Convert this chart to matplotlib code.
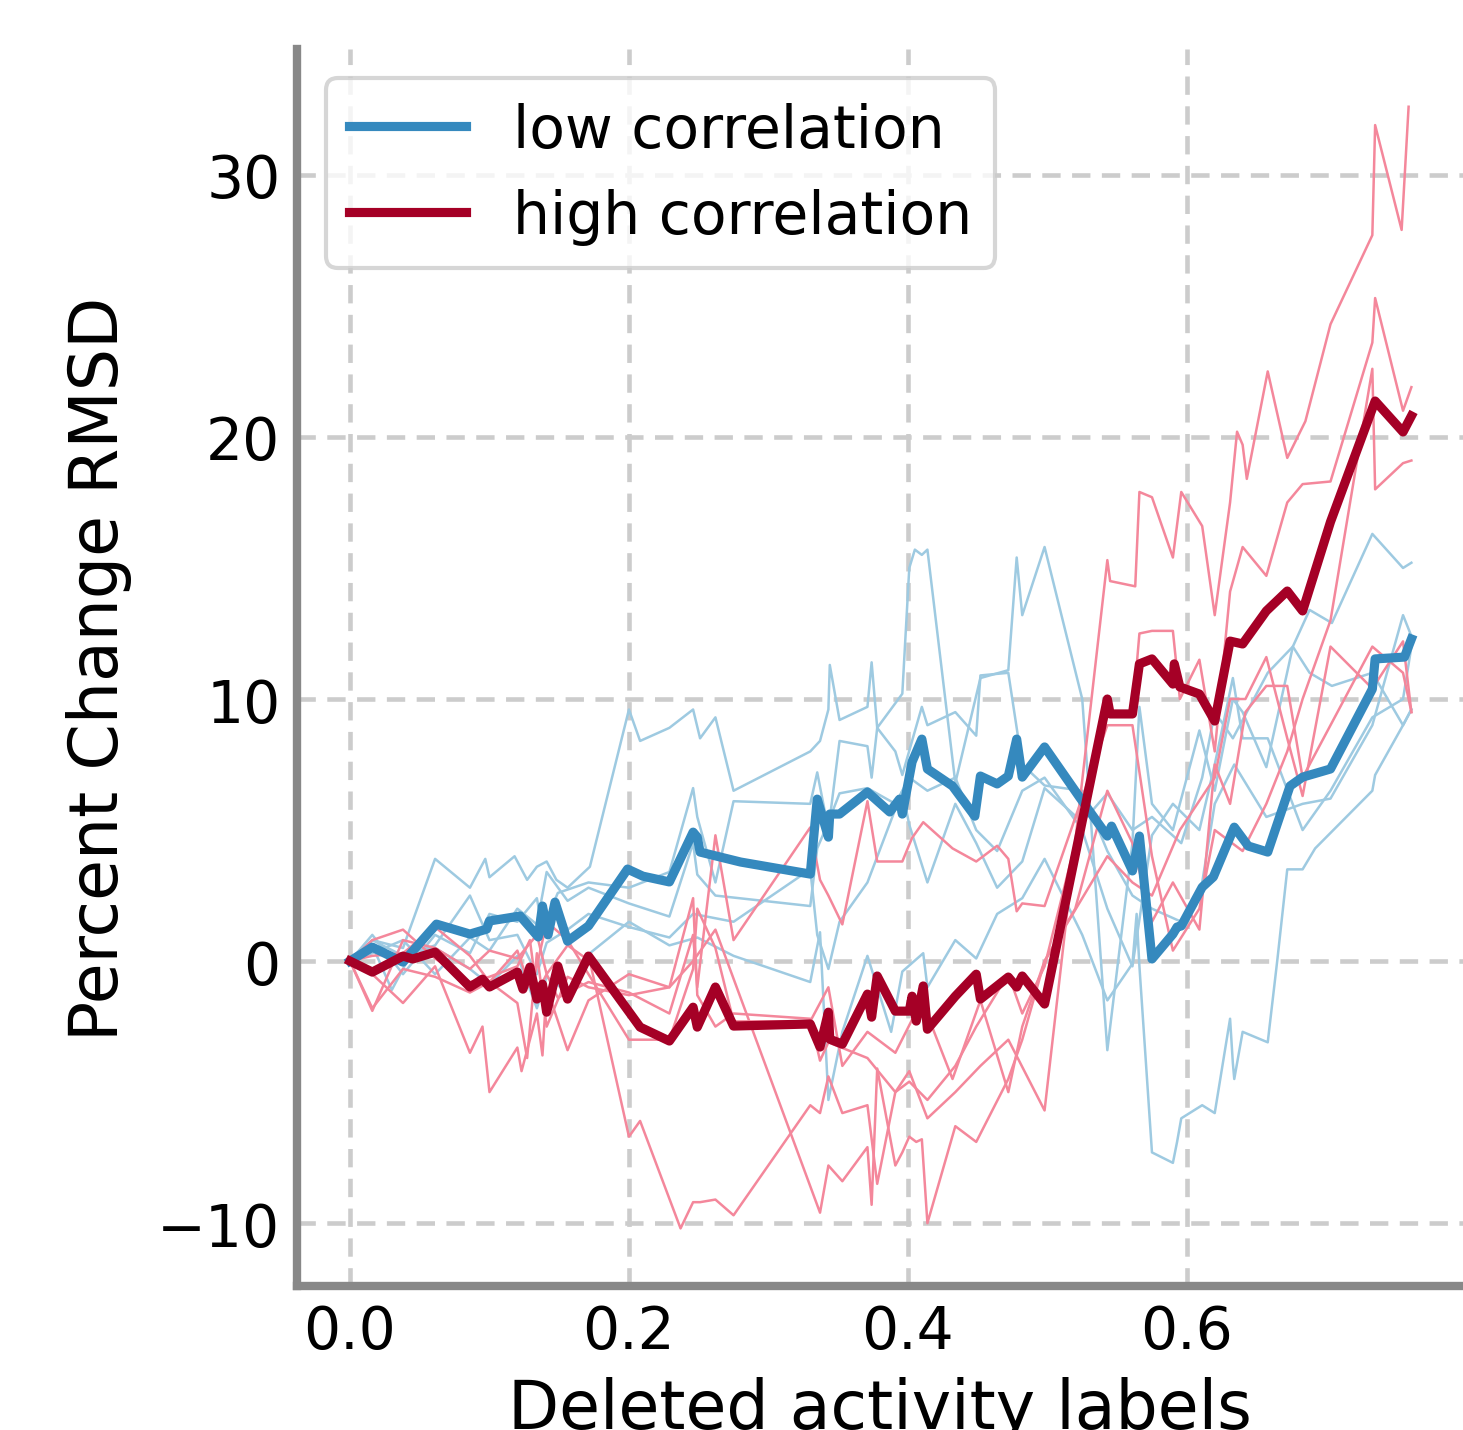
import matplotlib
matplotlib.use("Agg")
import matplotlib.pyplot as plt

# mean curves
low_x = [0.0, 0.016, 0.038, 0.062, 0.086, 0.098, 0.100, 0.122, 0.135, 0.138, 0.142, 0.147,
         0.156, 0.171, 0.199, 0.210, 0.229, 0.246, 0.249, 0.251, 0.280, 0.330, 0.335, 0.343,
         0.344, 0.351, 0.371, 0.387, 0.394, 0.396, 0.403, 0.410, 0.414, 0.432, 0.448, 0.452,
         0.464, 0.472, 0.478, 0.482, 0.498, 0.523, 0.543, 0.546, 0.561, 0.566, 0.575, 0.590,
         0.593, 0.596, 0.611, 0.619, 0.634, 0.644, 0.658, 0.674, 0.683, 0.703, 0.733, 0.735,
         0.756, 0.761]
low_y = [0.0, 0.53, -0.04, 1.41, 1.03, 1.22, 1.53, 1.72, 0.92, 2.10, 1.0, 2.25,
         0.76, 1.34, 3.51, 3.24, 3.02, 4.92, 4.73, 4.16, 3.78, 3.32, 6.18, 4.73,
         5.61, 5.61, 6.45, 5.69, 6.18, 5.61, 7.60, 8.47, 7.33, 6.68, 5.53, 7.06,
         6.76, 7.06, 8.47, 7.02, 8.17, 6.26, 4.77, 5.15, 3.44, 4.77, 0.08, 1.03,
         1.30, 1.34, 2.82, 3.21, 5.11, 4.39, 4.16, 6.68, 7.02, 7.33, 10.38, 11.53,
         11.60, 12.29]

high_x = [0.0, 0.016, 0.038, 0.045, 0.061, 0.086, 0.095, 0.100, 0.120, 0.124, 0.129, 0.134,
          0.138, 0.141, 0.149, 0.156, 0.171, 0.208, 0.229, 0.246, 0.249, 0.262, 0.275, 0.330,
          0.337, 0.343, 0.344, 0.353, 0.371, 0.374, 0.378, 0.391, 0.401, 0.403, 0.406, 0.411,
          0.414, 0.434, 0.449, 0.452, 0.472, 0.478, 0.482, 0.498, 0.543, 0.545, 0.561, 0.566,
          0.575, 0.590, 0.591, 0.595, 0.609, 0.620, 0.631, 0.640, 0.657, 0.672, 0.683, 0.703,
          0.735, 0.755, 0.761]
high_y = [0.0, -0.42, 0.19, 0.08, 0.34, -0.99, -0.69, -0.99, -0.42, -1.07, -0.23, -1.45,
          -0.88, -1.95, -0.19, -1.45, 0.19, -2.52, -3.05, -1.76, -2.52, -0.99, -2.48, -2.40,
          -3.28, -1.95, -2.98, -3.17, -1.26, -2.14, -0.57, -1.91, -1.91, -1.34, -2.29, -0.95,
          -2.60, -1.34, -0.50, -1.45, -0.61, -0.99, -0.57, -1.64, 10.0, 9.43, 9.43, 11.34,
          11.53, 10.57, 11.34, 10.46, 10.19, 9.16, 12.21, 12.10, 13.36, 14.12, 13.36, 16.76,
          21.37, 20.19, 20.80]

# individual runs, low correlation
low_runs = [
    ([0, 0.016, 0.038, 0.061, 0.086, 0.097, 0.100, 0.118, 0.127, 0.134, 0.141, 0.148, 0.156,
      0.172, 0.200, 0.208, 0.229, 0.246, 0.251, 0.262, 0.275, 0.330, 0.337, 0.343, 0.344,
      0.351, 0.371, 0.374, 0.378, 0.396, 0.401, 0.405, 0.410, 0.414, 0.425, 0.434, 0.452,
      0.472, 0.478, 0.482, 0.498, 0.525, 0.543, 0.561, 0.566, 0.575, 0.590, 0.609, 0.620,
      0.633, 0.640, 0.657, 0.676, 0.688, 0.704, 0.733, 0.755, 0.761],
     [0, 0.8, 0.5, 3.9, 2.8, 3.9, 3.2, 4.0, 3.1, 3.6, 3.8, 3.1, 2.8,
      3.6, 9.6, 8.4, 8.9, 9.6, 8.5, 9.3, 6.5, 8.0, 8.4, 9.6, 11.3,
      9.2, 9.7, 11.4, 8.9, 10.2, 15.0, 15.7, 15.5, 15.7, 10.8, 6.8, 10.8,
      11.1, 15.4, 13.2, 15.8, 10.0, -3.4, 4.5, 9.7, 6.0, 5.0, 8.8, 6.5,
      10.0, 9.5, 7.4, 12.0, 13.4, 12.9, 16.3, 15.0, 15.2]),
    ([0, 0.016, 0.030, 0.045, 0.061, 0.086, 0.100, 0.120, 0.134, 0.141, 0.156, 0.172, 0.200,
      0.229, 0.249, 0.275, 0.330, 0.337, 0.343, 0.353, 0.371, 0.388, 0.396, 0.411, 0.414,
      0.434, 0.449, 0.464, 0.482, 0.498, 0.525, 0.543, 0.561, 0.564, 0.566, 0.575, 0.590,
      0.593, 0.596, 0.611, 0.620, 0.631, 0.633, 0.634, 0.640, 0.658, 0.665, 0.672, 0.683,
      0.692, 0.733, 0.735, 0.755, 0.761],
     [0, 0.6, -1.1, 0.4, 0.5, -0.3, -0.9, 0.2, -1.8, -0.6, -1.2, 0.3, 1.5,
      0.6, 0.9, 0.2, -0.8, 1.1, -5.3, -2.7, 0.2, -2.7, -0.4, 0.3, -1.0,
      0.8, 0.1, 1.8, 2.4, 3.9, 1.0, -1.5, -0.1, 1.8, -0.2, -7.3, -7.7,
      -6.9, -6.0, -5.5, -5.8, -2.2, -3.9, -4.5, -2.7, -3.1, 0.1, 3.5, 3.5,
      4.3, 6.5, 7.1, 9.0, 9.6]),
    ([0, 0.016, 0.038, 0.061, 0.086, 0.100, 0.120, 0.134, 0.138, 0.149, 0.171, 0.200, 0.229,
      0.246, 0.249, 0.262, 0.275, 0.330, 0.335, 0.343, 0.351, 0.371, 0.374, 0.378, 0.391,
      0.396, 0.410, 0.414, 0.434, 0.449, 0.452, 0.472, 0.482, 0.498, 0.525, 0.543, 0.561,
      0.575, 0.596, 0.611, 0.620, 0.634, 0.657, 0.683, 0.703, 0.733, 0.755, 0.761],
     [0, 1.0, -0.5, 1.0, 0.3, 1.8, 1.5, 2.4, 1.2, 2.6, 3.0, 2.8, 3.4,
      6.6, 5.5, 3.0, 6.1, 6.0, 7.2, 5.0, 8.4, 8.2, 7.0, 8.9, 8.0,
      7.1, 9.7, 9.0, 9.5, 8.6, 10.9, 11.0, 7.5, 6.7, 6.5, 4.2, 2.5,
      2.0, 1.5, 3.0, 6.0, 7.5, 5.5, 6.0, 6.2, 9.0, 13.2, 12.4]),
    ([0, 0.016, 0.038, 0.061, 0.086, 0.100, 0.120, 0.134, 0.141, 0.156, 0.171, 0.200, 0.229,
      0.246, 0.249, 0.262, 0.330, 0.335, 0.343, 0.351, 0.371, 0.391, 0.401, 0.414, 0.434,
      0.449, 0.464, 0.482, 0.498, 0.525, 0.543, 0.561, 0.575, 0.590, 0.609, 0.620, 0.633,
      0.640, 0.658, 0.683, 0.703, 0.733, 0.755, 0.761],
     [0, 0.3, 0.8, -0.5, 0.9, 0.4, 2.0, 1.4, 3.4, 2.3, 2.8, 2.2, 1.7,
      4.5, 3.3, 2.5, 2.1, 4.3, 5.3, 6.4, 6.6, 6.0, 7.0, 6.5, 7.0,
      5.0, 4.2, 6.5, 7.0, 5.0, 2.0, -0.2, 4.8, 6.0, 5.0, 7.5, 10.8,
      8.5, 8.5, 5.0, 6.5, 9.3, 10.0, 12.0]),
    ([0, 0.016, 0.038, 0.061, 0.086, 0.100, 0.120, 0.134, 0.141, 0.156, 0.171, 0.200, 0.229,
      0.246, 0.275, 0.330, 0.335, 0.343, 0.351, 0.371, 0.396, 0.401, 0.414, 0.434, 0.449,
      0.464, 0.482, 0.498, 0.525, 0.543, 0.561, 0.575, 0.596, 0.611, 0.620, 0.633, 0.658,
      0.676, 0.688, 0.704, 0.733, 0.755, 0.761],
     [0, 0.8, 0.2, 0.6, 2.5, 0.8, 1.0, -0.5, 0.7, 1.2, 1.8, 1.3, 0.9,
      1.8, 1.5, 3.5, 1.0, -0.3, 1.5, 3.0, 6.5, 5.2, 3.0, 6.0, 4.5,
      2.8, 3.8, 6.6, 5.3, 6.4, 5.0, 5.5, 4.5, 7.0, 9.5, 8.5, 11.0,
      12.0, 11.0, 10.5, 11.0, 9.0, 9.6]),
]

# individual runs, high correlation
high_runs = [
    ([0, 0.016, 0.038, 0.061, 0.086, 0.100, 0.120, 0.127, 0.134, 0.141, 0.156, 0.171, 0.200,
      0.229, 0.246, 0.249, 0.262, 0.275, 0.330, 0.337, 0.343, 0.371, 0.391, 0.401, 0.414,
      0.434, 0.452, 0.472, 0.498, 0.543, 0.545, 0.563, 0.566, 0.575, 0.590, 0.596, 0.611,
      0.620, 0.631, 0.636, 0.640, 0.643, 0.658, 0.672, 0.685, 0.703, 0.733, 0.735, 0.754,
      0.759],
     [0, -1.8, -0.3, -0.6, -1.2, -0.8, -1.6, -3.7, 0.3, -2.5, -0.6, -1.0, -1.3,
      -1.0, 2.4, -1.3, -2.5, -2.0, -2.2, -3.8, -3.1, -3.7, -5.0, -4.2, -6.0,
      -5.0, -4.0, -3.0, -5.7, 15.3, 14.5, 14.3, 17.9, 17.7, 15.4, 17.9, 16.6,
      13.2, 17.5, 20.2, 19.7, 18.4, 22.5, 19.2, 20.6, 24.3, 27.7, 31.9, 27.9,
      32.6]),
    ([0, 0.016, 0.038, 0.061, 0.086, 0.100, 0.120, 0.134, 0.141, 0.156, 0.172, 0.200, 0.208,
      0.237, 0.246, 0.251, 0.262, 0.275, 0.330, 0.337, 0.343, 0.353, 0.371, 0.378, 0.391,
      0.401, 0.414, 0.434, 0.449, 0.472, 0.482, 0.498, 0.543, 0.561, 0.566, 0.575, 0.590,
      0.595, 0.609, 0.620, 0.631, 0.640, 0.657, 0.672, 0.683, 0.703, 0.733, 0.735, 0.755,
      0.761],
     [0, -1.9, 0.8, 0.5, -0.3, 0.4, 0.1, 1.0, -0.5, 0.6, 0.0, -6.7, -6.1,
      -10.2, -9.2, -9.2, -9.1, -9.7, -5.5, -5.8, -4.4, -5.8, -5.5, -8.5, -5.0,
      -4.6, -5.3, -4.0, -2.5, -0.5, -2.0, -0.2, 9.4, 9.4, 12.5, 12.6, 12.6,
      10.0, 11.5, 8.0, 14.1, 15.8, 14.7, 17.5, 18.2, 18.3, 23.6, 25.3, 21.0,
      21.9]),
    ([0, 0.016, 0.038, 0.061, 0.086, 0.095, 0.100, 0.120, 0.123, 0.134, 0.138, 0.141, 0.156,
      0.171, 0.200, 0.229, 0.246, 0.262, 0.337, 0.343, 0.353, 0.371, 0.374, 0.378, 0.391,
      0.396, 0.401, 0.406, 0.410, 0.414, 0.434, 0.449, 0.472, 0.482, 0.498, 0.543, 0.561,
      0.575, 0.595, 0.620, 0.631, 0.642, 0.657, 0.672, 0.683, 0.703, 0.733, 0.755, 0.761],
     [0, -0.5, -1.6, -0.2, -3.5, -2.5, -5.0, -3.3, -4.2, -2.0, -3.6, -1.0, -3.4,
      -1.5, -0.5, -1.0, 0.0, 1.2, -9.6, -7.8, -8.4, -7.1, -9.3, -4.1, -7.8,
      -7.3, -6.7, -6.9, -6.8, -10.0, -6.3, -6.9, -4.5, -3.0, 0.0, 4.0, 3.0,
      2.5, 5.0, 7.0, 10.0, 10.0, 11.6, 8.5, 6.3, 12.0, 10.4, 12.2, 9.5]),
    ([0, 0.016, 0.038, 0.061, 0.086, 0.100, 0.120, 0.129, 0.134, 0.141, 0.149, 0.171, 0.200,
      0.229, 0.246, 0.249, 0.262, 0.275, 0.330, 0.337, 0.343, 0.353, 0.371, 0.378, 0.396,
      0.403, 0.411, 0.432, 0.449, 0.464, 0.472, 0.478, 0.482, 0.498, 0.543, 0.561, 0.575,
      0.590, 0.609, 0.620, 0.640, 0.657, 0.672, 0.683, 0.703, 0.733, 0.735, 0.755, 0.761],
     [0, 0.8, 1.2, 0.1, -0.8, -0.6, -0.2, 0.8, -1.2, -0.5, -1.4, -0.8, -1.2,
      -2.0, 1.0, -1.0, 4.8, 0.8, 5.1, 3.1, 2.5, 1.4, 6.1, 3.8, 3.8,
      4.7, 5.3, 4.3, 3.8, 4.4, 3.9, 1.9, 2.2, 2.1, 9.0, 9.0, 4.0,
      0.4, 2.0, 5.0, 4.2, 6.0, 8.0, 10.0, 13.0, 22.6, 18.0, 19.0, 19.1]),
    ([0, 0.016, 0.038, 0.061, 0.086, 0.100, 0.120, 0.129, 0.134, 0.141, 0.156, 0.171, 0.200,
      0.229, 0.246, 0.249, 0.262, 0.275, 0.330, 0.343, 0.353, 0.371, 0.391, 0.410, 0.432,
      0.452, 0.472, 0.482, 0.498, 0.520, 0.543, 0.561, 0.575, 0.590, 0.609, 0.620, 0.631,
      0.642, 0.657, 0.672, 0.683, 0.703, 0.733, 0.755, 0.761],
     [0, 0.2, 0.3, 1.3, 0.2, -0.8, 0.4, -1.0, -0.2, 1.5, 0.8, -0.5, -3.0,
      -3.0, -0.3, 2.0, 0.5, -2.3, -2.3, -1.0, -4.0, -2.7, -3.5, -1.5, -4.5,
      -1.5, -5.0, -2.5, 0.0, 2.0, 6.5, 4.5, 1.5, 3.0, 1.2, 7.5, 6.0,
      9.5, 10.5, 10.5, 7.0, 9.0, 12.0, 11.0, 9.5]),
]

fig = plt.figure(figsize=(1463 / 300, 1431 / 300), dpi=300)
ax = fig.add_axes([0.203, 0.1006, 0.797, 0.8644])

for xs, ys in low_runs:
    ax.plot(xs, ys, color='#9ecae1', lw=0.6, zorder=2)
for xs, ys in high_runs:
    ax.plot(xs, ys, color='#f4879b', lw=0.6, zorder=2)

ax.plot(low_x, low_y, color='#3589be', lw=2.2, label='low correlation', zorder=3)
ax.plot(high_x, high_y, color='#a50026', lw=2.2, label='high correlation', zorder=3)

ax.set_xlim(-0.038, 0.798)
ax.set_ylim(-12.4, 34.8)
ax.set_xticks([0.0, 0.2, 0.4, 0.6])
ax.set_yticks([-10, 0, 10, 20, 30])
ax.grid(True, ls=(0, (4, 2.5)), color='#cccccc', lw=1.1, zorder=0)
ax.set_axisbelow(True)

for s in ['top', 'right']:
    ax.spines[s].set_visible(False)
for s in ['left', 'bottom']:
    ax.spines[s].set_color('#888888')
    ax.spines[s].set_linewidth(2.0)
ax.tick_params(length=0, labelsize=14, pad=4)

ax.set_xlabel('Deleted activity labels', fontsize=16)
ax.set_ylabel('Percent Change RMSD', fontsize=16, labelpad=6)
ax.legend(loc='upper left', fontsize=14)

fig.savefig('out.png', dpi=300)
